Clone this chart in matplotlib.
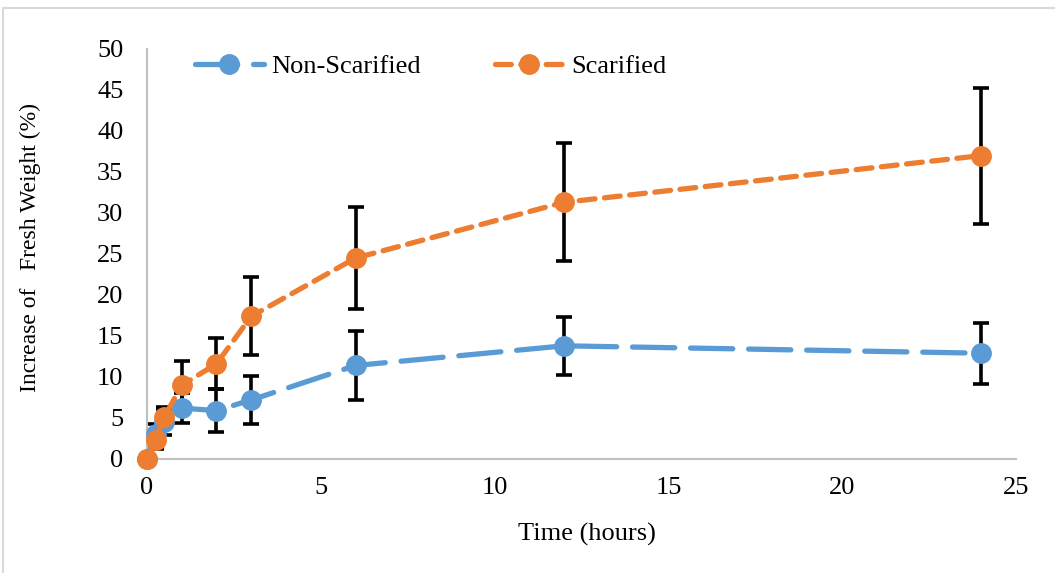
import matplotlib
matplotlib.use("Agg")
import matplotlib.pyplot as plt
from matplotlib.patches import Rectangle

# time points (hours)
hours = [0, 0.25, 0.5, 1, 2, 3, 6, 12, 24]

# increase of fresh weight (%) and error (+/-)
non_scar = [0, 3.1, 4.5, 6.2, 5.9, 7.2, 11.4, 13.8, 12.9]
non_scar_err = [0, 1.2, 1.6, 1.8, 2.6, 2.9, 4.2, 3.5, 3.7]
scar = [0, 2.3, 5.1, 9.0, 11.6, 17.4, 24.5, 31.3, 37.0]
scar_err = [0, 1.1, 1.2, 3.0, 3.1, 4.75, 6.25, 7.2, 8.3]

blue = "#5B9BD5"
orange = "#ED7D31"
plt.rcParams["font.family"] = ["Liberation Serif", "DejaVu Serif"]
fs = 19

fig = plt.figure(figsize=(10.55, 5.73), dpi=100)
ax = fig.add_axes([0.1393, 0.199, 0.8237, 0.7155])

# error bars underneath the markers
for vals, errs in ((non_scar, non_scar_err), (scar, scar_err)):
    eb = ax.errorbar(hours, vals, yerr=errs, fmt="none", ecolor="black",
                     elinewidth=2.6, capsize=5.5, capthick=2.6, zorder=2)
    for art in eb.lines[1] + eb.lines[2]:
        art.set_clip_on(False)

ax.plot(hours, non_scar, color=blue, lw=3.8, marker="o", ms=14,
        dashes=(8, 3), dash_capstyle="round", label="Non-Scarified",
        zorder=3, clip_on=False)
ax.plot(hours, scar, color=orange, lw=3.8, marker="o", ms=14,
        dashes=(3, 1.8), dash_capstyle="round", label="Scarified",
        zorder=4, clip_on=False)

ax.set_xlim(0, 25)
ax.set_ylim(0, 50)
ax.set_xticks(range(0, 26, 5))
ax.set_yticks(range(0, 51, 5))
ax.tick_params(length=0, labelsize=fs)
ax.tick_params(axis="x", pad=13)
ax.tick_params(axis="y", pad=17)
for side in ("top", "right"):
    ax.spines[side].set_visible(False)
for side in ("left", "bottom"):
    ax.spines[side].set_color("#BFBFBF")
    ax.spines[side].set_linewidth(1.5)

ax.set_xlabel("Time (hours)", fontsize=fs)
ax.xaxis.set_label_coords(0.506, -0.157)
ax.set_ylabel("Increase of   Fresh Weight (%)", fontsize=17)
ax.yaxis.set_label_coords(-0.122, 0.516)

ax.legend(loc="upper left", bbox_to_anchor=(0.028, 1.045), ncol=2, frameon=False,
          fontsize=fs, handlelength=2.6, columnspacing=2.8, handletextpad=0.3)

# light gray frame around the chart area
fig.patches.append(Rectangle((3 / 1055, -0.1), 1.2, 1 - 8 / 573 + 0.1,
                             transform=fig.transFigure, fill=False,
                             edgecolor="#D9D9D9", lw=1.5))

fig.savefig("out.png", dpi=100)
